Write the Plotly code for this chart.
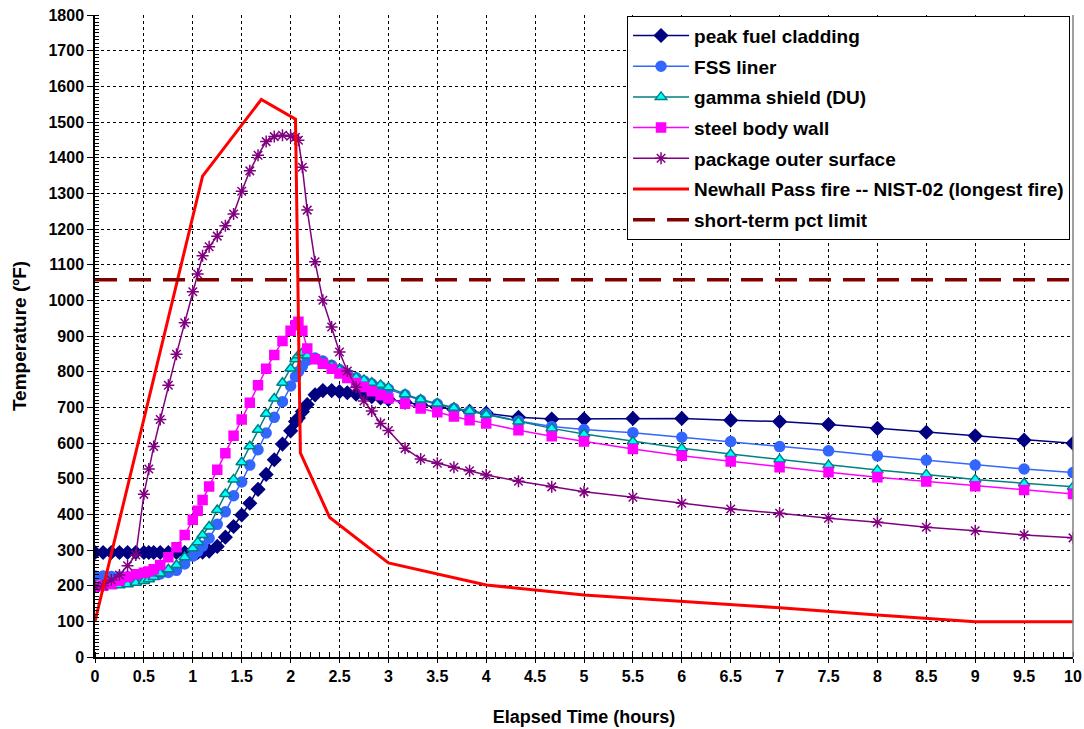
import plotly.graph_objects as go

# elapsed time (hours) for the package temperature series
time_hr = [0, 0.083, 0.167, 0.25, 0.333, 0.417, 0.5, 0.55, 0.6, 0.667, 0.75, 0.833, 0.917,
           1.0, 1.05, 1.1, 1.167, 1.25, 1.333, 1.417, 1.5, 1.583, 1.667, 1.75, 1.833, 1.917,
           2.0, 2.05, 2.08, 2.12, 2.17, 2.25, 2.33, 2.42, 2.5, 2.58, 2.67, 2.75, 2.83, 2.92,
           3.0, 3.17, 3.33, 3.5, 3.67, 3.83, 4.0, 4.33, 4.67,
           5.0, 5.5, 6.0, 6.5, 7.0, 7.5, 8.0, 8.5, 9.0, 9.5, 10.0]

peak_fuel_cladding = [293, 293, 293, 293, 293, 293, 293, 293, 293, 293, 293, 293, 293,
                      293, 293, 294, 297, 310, 336, 366, 398, 431, 470, 512, 553, 597,
                      634, 660, 670, 688, 708, 735, 747, 747, 744, 741, 737, 734, 730, 726,
                      722, 714, 707, 700, 694, 689, 684, 672, 667,
                      667, 669, 669, 664, 660, 652, 641, 630, 620, 608, 599]

fss_liner = [227, 227, 226, 225, 225, 226, 226, 228, 230, 233, 237, 243, 261,
             283, 296, 311, 333, 372, 407, 452, 491, 538, 581, 628, 672, 716,
             760, 786, 800, 815, 832, 838, 830, 818, 806, 794, 783, 774, 766, 758,
             751, 735, 720, 709, 697, 688, 681, 662, 646,
             638, 629, 616, 604, 590, 578, 564, 552, 538, 527, 517]

gamma_shield = [197, 198, 199, 201, 204, 208, 213, 218, 224, 234, 246, 258, 280,
                305, 322, 342, 366, 412, 457, 498, 546, 591, 637, 682, 725, 769,
                809, 835, 846, 853, 845, 836, 828, 817, 805, 793, 784, 777, 769, 763,
                756, 737, 722, 711, 699, 690, 680, 660, 641,
                625, 604, 585, 569, 554, 538, 524, 512, 498, 487, 477]

steel_body_wall = [197, 200, 205, 214, 224, 232, 236, 240, 246, 258, 280, 308, 342,
                   385, 410, 440, 478, 525, 571, 620, 666, 713, 762, 808, 847, 886,
                   915, 930, 940, 915, 865, 835, 822, 808, 795, 782, 768, 757, 745, 734,
                   725, 710, 697, 686, 674, 664, 655, 636, 619,
                   604, 583, 564, 548, 532, 518, 504, 492, 479, 468, 457]

outer_surface = [197, 200, 216, 230, 256, 286, 456, 527, 590, 666, 762, 849, 937,
                 1024, 1074, 1125, 1150, 1180, 1209, 1242, 1306, 1363, 1407, 1445, 1459, 1463,
                 1460, 1457, 1449, 1373, 1253, 1108, 1000, 925, 855, 802, 756, 718, 690, 655,
                 635, 585, 555, 543, 532, 522, 510, 493, 477,
                 463, 448, 431, 415, 403, 389, 378, 364, 354, 342, 334]

# fire curve
fire_time = [0, 1.1, 1.7, 2.05, 2.1, 2.4, 3, 4, 5, 6, 7, 8, 9, 10]
fire_temp = [100, 1348, 1563, 1508, 572, 391, 264, 202, 174, 157, 138, 118, 99, 99]

limit_time = [0, 10]
limit_temp = [1058, 1058]

series = [
	('peak fuel cladding', peak_fuel_cladding, '#000080', '#000080', 'diamond', 10),
	('FSS liner', fss_liner, '#3366FF', '#3366FF', 'circle', 10),
	('gamma shield (DU)', gamma_shield, '#008080', '#00FFFF', 'triangle-up', 10),
	('steel body wall', steel_body_wall, '#FF00FF', '#FF00FF', 'square', 9),
	('package outer surface', outer_surface, '#800080', '#800080', 'asterisk-open', 10),
]

fig = go.Figure()

for name, values, line_color, fill_color, symbol, size in series:

	fig.add_trace(
		go.Scatter(
			x=time_hr,
			y=values,
			mode='lines+markers',
			name=name,
			legendgroup=name,
			line=dict(color=line_color, width=1.5),
			marker=dict(
				symbol=symbol,
				size=size,
				color=fill_color,
				line=dict(color=line_color, width=1.5)
			)
		)
	)

fig.add_trace(
	go.Scatter(
		x=fire_time,
		y=fire_temp,
		mode='lines',
		name='Newhall Pass fire -- NIST-02 (longest fire)',
		legendgroup='fire',
		line=dict(color='#FF0000', width=3)
	)
)

fig.add_trace(
	go.Scatter(
		x=limit_time,
		y=limit_temp,
		mode='lines',
		name='short-term pct limit',
		legendgroup='limit',
		line=dict(color='#800000', width=3.5, dash='22px,12px')
	)
)

font_family = 'Arial, Liberation Sans, sans-serif'

fig.update_layout(
	width=1084,
	height=729,
	margin=dict(l=95, r=11, t=15, b=72),
	paper_bgcolor='white',
	plot_bgcolor='white',
	font=dict(family=font_family, size=16, color='black'),
	legend=dict(
		x=0.544,
		y=0.999,
		xanchor='left',
		yanchor='top',
		bgcolor='white',
		bordercolor='black',
		borderwidth=1,
		font=dict(family=font_family, size=19, color='black', weight='bold'),
		tracegroupgap=3,
		itemwidth=56
	),
	showlegend=True
)

fig.update_xaxes(
	range=[0, 10],
	dtick=0.5,
	tick0=0,
	automargin=False,
	showgrid=True,
	gridcolor='black',
	griddash='dot',
	gridwidth=1,
	showline=True,
	linecolor='black',
	linewidth=1.5,
	ticks='outside',
	ticklen=4,
	tickcolor='black',
	tickfont=dict(family=font_family, size=16, weight='bold'),
	minor=dict(dtick=0.1, ticks='inside', ticklen=5, tickcolor='black', showgrid=False),
	zeroline=False,
	title_text='Elapsed Time (hours)',
	title_font=dict(family=font_family, size=18, weight='bold'),
	title_standoff=26
)

fig.update_yaxes(
	range=[0, 1800],
	dtick=100,
	automargin=False,
	showgrid=True,
	gridcolor='black',
	griddash='dot',
	gridwidth=1,
	showline=True,
	linecolor='black',
	linewidth=1.5,
	ticks='outside',
	ticklen=6,
	tickcolor='black',
	tickfont=dict(family=font_family, size=16, weight='bold'),
	minor=dict(dtick=10, ticks='inside', ticklen=4, tickcolor='black', showgrid=False),
	zeroline=False,
	title_text='Temperature (ºF)',
	title_font=dict(family=font_family, size=19, weight='bold'),
	title_standoff=17
)

# right edge frame
fig.add_shape(
	type='line', xref='paper', yref='paper',
	x0=1, x1=1, y0=0, y1=1,
	line=dict(color='#808080', width=1.5)
)

fig.write_html(
	"out.html",
	config={'displayModeBar': False},
	post_script="document.body.style.margin = '0px';"
)
